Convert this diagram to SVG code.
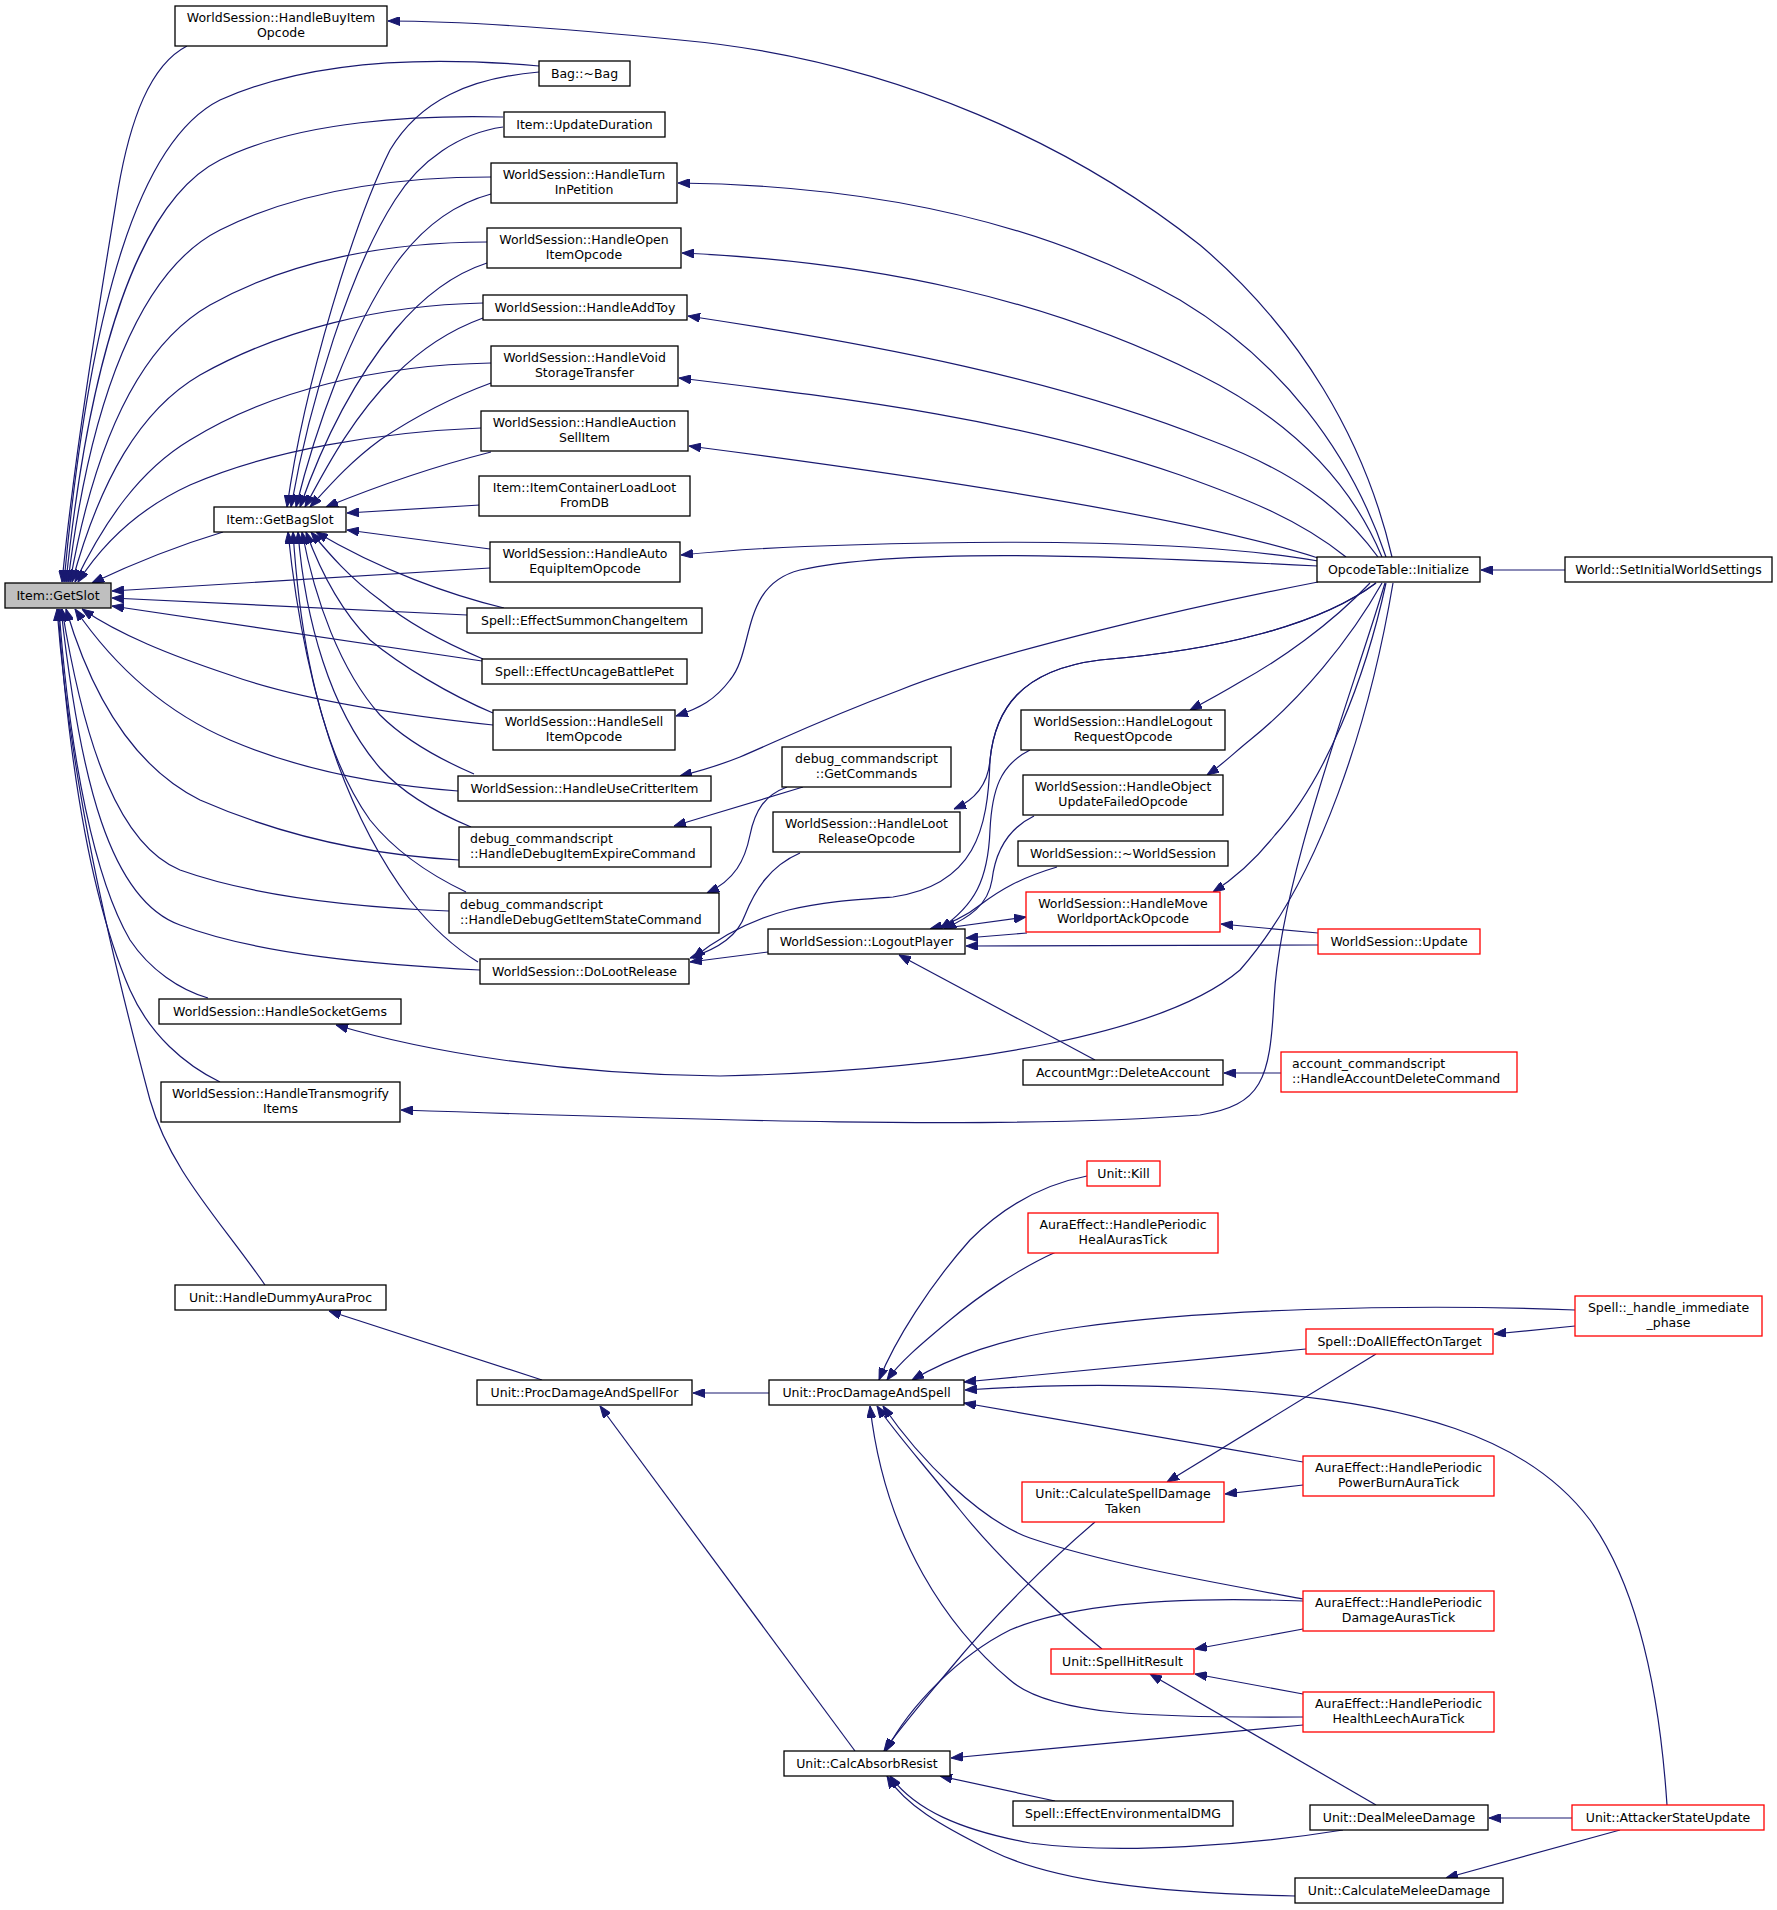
<svg xmlns="http://www.w3.org/2000/svg" width="1777" height="1910" viewBox="0 0 1777 1910">
<style>
.n rect{fill:#fff;stroke:#000;stroke-width:1.3}
.r rect{stroke:#f00}
.g rect{fill:#bfbfbf}
text{font-family:"DejaVu Sans","Liberation Sans",sans-serif;font-size:12.5px;fill:#000;text-anchor:middle}
text.l{text-anchor:start}
.e path{fill:none;stroke:#191970;stroke-width:1.2;marker-end:url(#a)}
</style>
<defs>
<marker id="a" markerWidth="12" markerHeight="9" refX="12" refY="4.5" orient="auto" markerUnits="userSpaceOnUse"><path d="M0,0 L12,4.5 L0,9 z" fill="#191970" stroke="#191970" stroke-width="1"/></marker>
</defs>
<rect width="1777" height="1910" fill="#fff"/>
<g class="e" id="edges">
<!-- to GetSlot -->
<path d="M187,46 C150,65 130,120 118,190 C100,300 75,450 62,582"/>
<path d="M539,66 C450,58 320,55 220,100 C140,140 90,300 64,582"/>
<path d="M503,117 C420,115 300,120 220,160 C140,200 90,350 66,582"/>
<path d="M491,177 C400,177 300,190 220,230 C140,270 90,400 68,582"/>
<path d="M487,242 C390,242 290,260 210,305 C140,345 95,440 70,582"/>
<path d="M483,303 C380,305 280,330 200,375 C140,410 100,480 72,582"/>
<path d="M491,363 C380,365 270,390 190,440 C140,470 105,520 75,582"/>
<path d="M481,428 C380,432 270,450 190,485 C140,508 105,540 78,582"/>
<path d="M223,532 C180,545 130,565 92,583"/>
<path d="M490,568 L112,591"/>
<path d="M467,615 L112,598"/>
<path d="M482,661 L112,606"/>
<path d="M493,725 C400,715 300,700 230,675 C170,655 120,635 82,609"/>
<path d="M458,791 C380,785 300,770 230,740 C160,710 110,660 75,609"/>
<path d="M459,860 C370,855 280,835 200,800 C130,765 90,690 66,609"/>
<path d="M449,911 C350,907 250,895 180,870 C120,845 85,750 62,609"/>
<path d="M480,970 C380,965 260,955 180,925 C110,900 80,780 61,609"/>
<path d="M208,998 C180,990 150,970 130,940 C95,880 70,760 59,609"/>
<path d="M220,1082 C185,1065 150,1035 130,990 C95,910 70,780 58,609"/>
<path d="M265,1285 C220,1220 170,1170 150,1100 C110,950 70,780 57,609"/>
<!-- to GetBagSlot -->
<path d="M539,72 C470,78 420,100 390,150 C355,220 305,380 287,507"/>
<path d="M503,127 C460,133 420,160 395,200 C350,270 310,400 291,507"/>
<path d="M491,194 C450,205 420,230 395,265 C350,330 315,430 296,507"/>
<path d="M487,263 C450,275 420,300 395,330 C350,385 320,450 300,507"/>
<path d="M483,318 C450,330 420,350 395,375 C355,415 330,460 305,507"/>
<path d="M491,383 C450,398 410,420 380,440 C350,462 330,485 310,507"/>
<path d="M491,452 C440,465 380,485 326,507"/>
<path d="M480,505 L347,513"/>
<path d="M490,549 L347,530"/>
<path d="M504,608 C450,595 380,570 316,532"/>
<path d="M483,659 C450,645 410,625 380,600 C350,578 330,555 311,532"/>
<path d="M493,713 C450,695 400,665 370,640 C340,610 320,570 306,532"/>
<path d="M474,774 C430,755 400,735 380,715 C340,670 315,600 302,532"/>
<path d="M471,827 C430,810 400,790 380,768 C330,710 305,620 298,532"/>
<path d="M466,892 C420,870 390,845 370,820 C320,750 300,640 293,532"/>
<path d="M478,962 C450,945 430,925 410,900 C350,820 305,700 288,532"/>
<!-- from OpcodeTable -->
<path d="M1392,557 C1365,440 1300,330 1200,245 C1080,150 900,60 680,40 C560,28 460,21 388,21"/>
<path d="M1386,557 C1350,450 1280,360 1180,300 C1030,215 850,185 678,183"/>
<path d="M1382,557 C1350,480 1290,420 1200,375 C1050,300 880,262 682,253"/>
<path d="M1378,557 C1340,505 1290,470 1210,440 C1060,380 880,345 688,316"/>
<path d="M1346,557 C1300,520 1250,500 1180,475 C1020,420 860,400 679,378"/>
<path d="M1318,558 C1200,520 950,480 689,446"/>
<path d="M1318,561 C1200,540 1000,540 850,545 C770,547 720,551 681,555"/>
<path d="M1318,566 C1100,555 900,548 800,570 C740,585 755,650 730,680 C715,700 700,708 676,716"/>
<path d="M1318,582 C1200,605 1000,650 900,690 C820,720 780,740 740,757 C720,765 700,771 680,776"/>
<path d="M1376,583 C1320,625 1220,650 1100,660 C1020,670 995,710 990,760 C988,785 975,800 954,809"/>
<path d="M1376,583 C1320,625 1220,650 1100,660 C1020,670 995,710 990,760 C988,830 975,885 893,897 C820,902 760,905 693,958"/>
<path d="M1370,583 C1330,625 1280,660 1240,682 C1220,694 1205,702 1190,710"/>
<path d="M1382,583 C1350,640 1300,700 1250,740 C1235,752 1222,765 1207,775"/>
<path d="M1386,583 C1365,680 1325,780 1275,835 C1255,860 1235,878 1213,892"/>
<path d="M1393,583 C1370,720 1320,880 1240,970 C1170,1030 980,1070 720,1076 C560,1075 420,1050 336,1025"/>
<path d="M1385,583 C1350,700 1280,880 1274,1000 C1270,1080 1262,1105 1200,1115 C1000,1130 700,1120 401,1110"/>
<path d="M1565,570 L1481,570"/>
<!-- LogoutPlayer cluster -->
<path d="M803,787 C770,797 720,812 674,826"/>
<path d="M787,787 C765,795 755,810 750,835 C745,860 735,880 707,893"/>
<path d="M800,853 C770,866 755,890 745,915 C738,935 720,948 690,958"/>
<path d="M768,952 L690,962"/>
<path d="M1030,750 C1000,765 992,790 990,830 C988,880 975,905 940,929"/>
<path d="M1034,816 C1005,830 995,855 992,880 C988,905 970,917 944,929"/>
<path d="M1057,867 C1020,878 1000,890 980,905 C965,917 950,924 930,929"/>
<path d="M946,928 L1026,917"/>
<path d="M1027,933 L966,938"/>
<path d="M1318,945 L966,946"/>
<path d="M1318,933 L1221,924"/>
<path d="M1095,1060 L899,955"/>
<path d="M1281,1073 L1224,1073"/>
<!-- lower section -->
<path d="M542,1380 L329,1311"/>
<path d="M769,1393 L693,1393"/>
<path d="M855,1751 L600,1406"/>
<path d="M1087,1176 C1040,1185 1000,1210 970,1240 C930,1285 895,1340 879,1380"/>
<path d="M1056,1252 C1020,1268 980,1295 950,1320 C920,1345 900,1362 887,1380"/>
<path d="M1575,1310 C1400,1303 1200,1310 1080,1327 C1000,1338 950,1358 912,1380"/>
<path d="M1306,1349 L964,1382"/>
<path d="M1667,1805 C1660,1700 1640,1590 1590,1520 C1530,1440 1420,1400 1200,1388 C1100,1383 1030,1386 965,1390"/>
<path d="M1303,1462 L964,1403"/>
<path d="M1303,1599 C1200,1580 1100,1562 1030,1538 C980,1520 920,1460 883,1406"/>
<path d="M1102,1649 C1060,1615 1000,1560 960,1510 C920,1460 893,1430 877,1406"/>
<path d="M1303,1717 C1150,1718 1050,1715 1010,1680 C950,1630 885,1540 870,1406"/>
<path d="M1376,1354 L1167,1482"/>
<path d="M1303,1485 L1225,1494"/>
<path d="M1095,1522 C1050,1560 990,1620 950,1669 C920,1705 900,1728 884,1751"/>
<path d="M1303,1601 C1200,1597 1080,1600 1010,1630 C960,1655 910,1705 886,1751"/>
<path d="M1303,1725 L951,1758"/>
<path d="M1055,1801 L940,1776"/>
<path d="M1343,1830 C1250,1845 1120,1855 1030,1843 C960,1830 915,1810 890,1776"/>
<path d="M1295,1896 C1150,1893 1050,1880 990,1850 C940,1825 905,1805 887,1776"/>
<path d="M1376,1805 L1150,1674"/>
<path d="M1303,1629 L1195,1649"/>
<path d="M1303,1694 L1195,1674"/>
<path d="M1575,1326 L1494,1334"/>
<path d="M1572,1818 L1489,1818"/>
<path d="M1620,1830 L1446,1878"/>
</g>
<g id="n_buyitem" class="n"><rect x="175" y="6" width="212" height="40"/><text x="281" y="22">WorldSession::HandleBuyItem</text><text x="281" y="37">Opcode</text></g>
<g id="n_bag" class="n"><rect x="539" y="61" width="91" height="25"/><text x="584.5" y="78">Bag::~Bag</text></g>
<g id="n_updur" class="n"><rect x="504" y="112" width="161" height="25"/><text x="584.5" y="129">Item::UpdateDuration</text></g>
<g id="n_turnin" class="n"><rect x="491" y="163" width="186" height="40"/><text x="584" y="179">WorldSession::HandleTurn</text><text x="584" y="194">InPetition</text></g>
<g id="n_openitem" class="n"><rect x="487" y="228" width="194" height="40"/><text x="584" y="244">WorldSession::HandleOpen</text><text x="584" y="259">ItemOpcode</text></g>
<g id="n_addtoy" class="n"><rect x="483" y="295" width="204" height="25"/><text x="585" y="312">WorldSession::HandleAddToy</text></g>
<g id="n_void" class="n"><rect x="491" y="346" width="187" height="40"/><text x="584.5" y="362">WorldSession::HandleVoid</text><text x="584.5" y="377">StorageTransfer</text></g>
<g id="n_auction" class="n"><rect x="481" y="411" width="207" height="40"/><text x="584.5" y="427">WorldSession::HandleAuction</text><text x="584.5" y="442">SellItem</text></g>
<g id="n_loadloot" class="n"><rect x="479" y="476" width="211" height="40"/><text x="584.5" y="492">Item::ItemContainerLoadLoot</text><text x="584.5" y="507">FromDB</text></g>
<g id="n_autoequip" class="n"><rect x="490" y="542" width="190" height="40"/><text x="585" y="558">WorldSession::HandleAuto</text><text x="585" y="573">EquipItemOpcode</text></g>
<g id="n_getbagslot" class="n"><rect x="214" y="507" width="132" height="25"/><text x="280" y="524">Item::GetBagSlot</text></g>
<g id="n_getslot" class="n g"><rect x="5" y="583" width="106" height="25"/><text x="58" y="600">Item::GetSlot</text></g>
<g id="n_summon" class="n"><rect x="467" y="608" width="235" height="25"/><text x="584.5" y="625">Spell::EffectSummonChangeItem</text></g>
<g id="n_uncage" class="n"><rect x="482" y="659" width="205" height="25"/><text x="584.5" y="676">Spell::EffectUncageBattlePet</text></g>
<g id="n_sell" class="n"><rect x="493" y="710" width="182" height="40"/><text x="584" y="726">WorldSession::HandleSell</text><text x="584" y="741">ItemOpcode</text></g>
<g id="n_critter" class="n"><rect x="458" y="776" width="253" height="25"/><text x="584.5" y="793">WorldSession::HandleUseCritterItem</text></g>
<g id="n_expire" class="n"><rect x="459" y="827" width="252" height="40"/><text class="l" x="470" y="843">debug_commandscript</text><text class="l" x="470" y="858">::HandleDebugItemExpireCommand</text></g>
<g id="n_getstate" class="n"><rect x="449" y="893" width="270" height="40"/><text class="l" x="460" y="909">debug_commandscript</text><text class="l" x="460" y="924">::HandleDebugGetItemStateCommand</text></g>
<g id="n_dolootrelease" class="n"><rect x="480" y="959" width="209" height="25"/><text x="584.5" y="976">WorldSession::DoLootRelease</text></g>
<g id="n_socketgems" class="n"><rect x="159" y="999" width="242" height="25"/><text x="280" y="1016">WorldSession::HandleSocketGems</text></g>
<g id="n_transmog" class="n"><rect x="161" y="1082" width="239" height="40"/><text x="280.5" y="1098">WorldSession::HandleTransmogrify</text><text x="280.5" y="1113">Items</text></g>
<g id="n_getcommands" class="n"><rect x="782" y="747" width="169" height="40"/><text x="866.5" y="763">debug_commandscript</text><text x="866.5" y="778">::GetCommands</text></g>
<g id="n_lootrelop" class="n"><rect x="773" y="812" width="187" height="40"/><text x="866.5" y="828">WorldSession::HandleLoot</text><text x="866.5" y="843">ReleaseOpcode</text></g>
<g id="n_logoutplayer" class="n"><rect x="768" y="929" width="197" height="25"/><text x="866.5" y="946">WorldSession::LogoutPlayer</text></g>
<g id="n_logoutreq" class="n"><rect x="1021" y="710" width="204" height="40"/><text x="1123" y="726">WorldSession::HandleLogout</text><text x="1123" y="741">RequestOpcode</text></g>
<g id="n_objupd" class="n"><rect x="1023" y="775" width="200" height="40"/><text x="1123" y="791">WorldSession::HandleObject</text><text x="1123" y="806">UpdateFailedOpcode</text></g>
<g id="n_dtor" class="n"><rect x="1018" y="841" width="210" height="25"/><text x="1123" y="858">WorldSession::~WorldSession</text></g>
<g id="n_move" class="n r"><rect x="1026" y="892" width="194" height="40"/><text x="1123" y="908">WorldSession::HandleMove</text><text x="1123" y="923">WorldportAckOpcode</text></g>
<g id="n_delacct" class="n"><rect x="1023" y="1060" width="200" height="25"/><text x="1123" y="1077">AccountMgr::DeleteAccount</text></g>
<g id="n_acctcmd" class="n r"><rect x="1281" y="1052" width="236" height="40"/><text class="l" x="1292" y="1068">account_commandscript</text><text class="l" x="1292" y="1083">::HandleAccountDeleteCommand</text></g>
<g id="n_update" class="n r"><rect x="1318" y="929" width="162" height="25"/><text x="1399" y="946">WorldSession::Update</text></g>
<g id="n_opcode" class="n"><rect x="1317" y="557" width="163" height="25"/><text x="1398.5" y="574">OpcodeTable::Initialize</text></g>
<g id="n_world" class="n"><rect x="1565" y="557" width="207" height="25"/><text x="1668.5" y="574">World::SetInitialWorldSettings</text></g>
<g id="n_dummy" class="n"><rect x="175" y="1285" width="211" height="25"/><text x="280.5" y="1302">Unit::HandleDummyAuraProc</text></g>
<g id="n_pdasfor" class="n"><rect x="477" y="1380" width="215" height="25"/><text x="584.5" y="1397">Unit::ProcDamageAndSpellFor</text></g>
<g id="n_pdas" class="n"><rect x="769" y="1380" width="195" height="25"/><text x="866.5" y="1397">Unit::ProcDamageAndSpell</text></g>
<g id="n_car" class="n"><rect x="784" y="1751" width="166" height="25"/><text x="867" y="1768">Unit::CalcAbsorbResist</text></g>
<g id="n_kill" class="n r"><rect x="1087" y="1161" width="73" height="25"/><text x="1123.5" y="1178">Unit::Kill</text></g>
<g id="n_heal" class="n r"><rect x="1028" y="1213" width="190" height="40"/><text x="1123" y="1229">AuraEffect::HandlePeriodic</text><text x="1123" y="1244">HealAurasTick</text></g>
<g id="n_imm" class="n r"><rect x="1575" y="1296" width="187" height="40"/><text x="1668.5" y="1312">Spell::_handle_immediate</text><text x="1668.5" y="1327">_phase</text></g>
<g id="n_doall" class="n r"><rect x="1306" y="1329" width="187" height="25"/><text x="1399.5" y="1346">Spell::DoAllEffectOnTarget</text></g>
<g id="n_powerburn" class="n r"><rect x="1303" y="1456" width="191" height="40"/><text x="1398.5" y="1472">AuraEffect::HandlePeriodic</text><text x="1398.5" y="1487">PowerBurnAuraTick</text></g>
<g id="n_csdt" class="n r"><rect x="1022" y="1482" width="202" height="40"/><text x="1123" y="1498">Unit::CalculateSpellDamage</text><text x="1123" y="1513">Taken</text></g>
<g id="n_dmgaura" class="n r"><rect x="1303" y="1591" width="191" height="40"/><text x="1398.5" y="1607">AuraEffect::HandlePeriodic</text><text x="1398.5" y="1622">DamageAurasTick</text></g>
<g id="n_shr" class="n r"><rect x="1051" y="1649" width="143" height="25"/><text x="1122.5" y="1666">Unit::SpellHitResult</text></g>
<g id="n_leech" class="n r"><rect x="1303" y="1692" width="191" height="40"/><text x="1398.5" y="1708">AuraEffect::HandlePeriodic</text><text x="1398.5" y="1723">HealthLeechAuraTick</text></g>
<g id="n_env" class="n"><rect x="1013" y="1801" width="220" height="25"/><text x="1123" y="1818">Spell::EffectEnvironmentalDMG</text></g>
<g id="n_dmd" class="n"><rect x="1310" y="1805" width="178" height="25"/><text x="1399" y="1822">Unit::DealMeleeDamage</text></g>
<g id="n_asu" class="n r"><rect x="1572" y="1805" width="192" height="25"/><text x="1668" y="1822">Unit::AttackerStateUpdate</text></g>
<g id="n_cmd" class="n"><rect x="1295" y="1878" width="208" height="25"/><text x="1399" y="1895">Unit::CalculateMeleeDamage</text></g>
</svg>
